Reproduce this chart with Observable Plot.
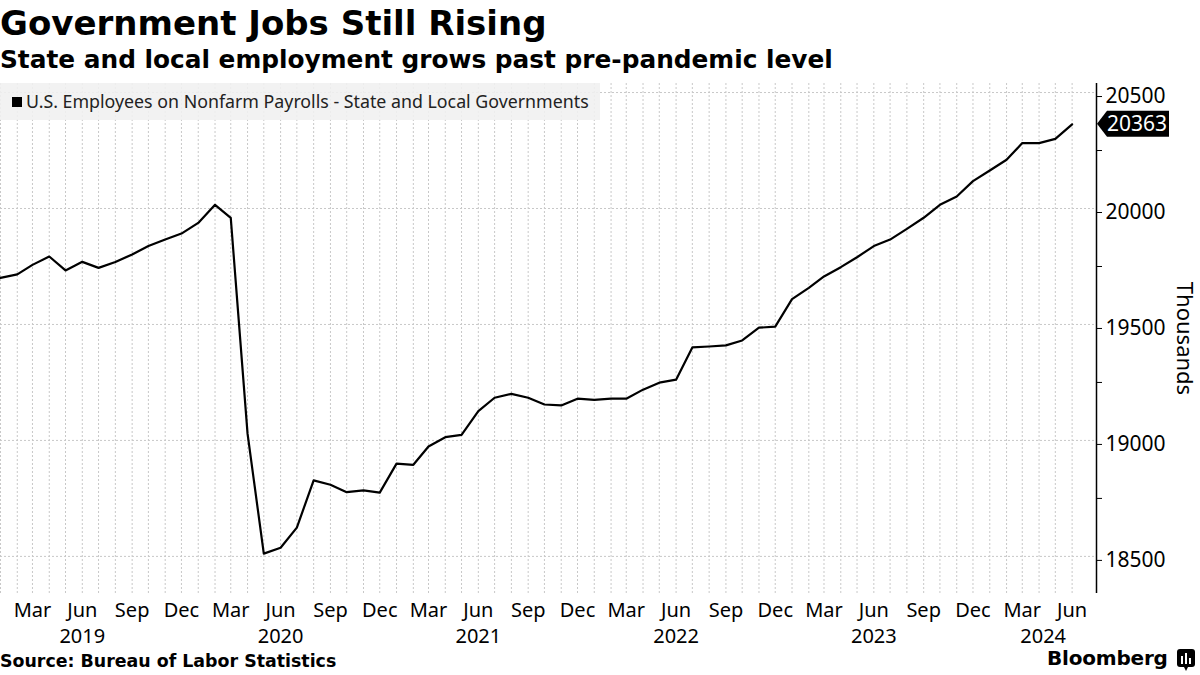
<!DOCTYPE html>
<html>
<head>
<meta charset="utf-8">
<script src="https://cdn.jsdelivr.net/npm/d3@7"></script>
<script src="https://cdn.jsdelivr.net/npm/@observablehq/plot@0.6"></script>
<style>
  html, body { margin: 0; padding: 0; background: #fff; }
  #root { position: relative; width: 1200px; height: 675px; overflow: hidden; background: #fff; }
  .abs { position: absolute; white-space: nowrap; }
  #title { left: 0; top: 6px; font: bold 34px/34px "DejaVu Sans", sans-serif; color: #000; }
  #subtitle { left: 0; top: 47px; font: bold 24.8px/25px "DejaVu Sans", sans-serif; color: #000; }
  #chart { position: absolute; left: 0; top: 75px; }
  #legend { left: 0; top: 83px; width: 600px; height: 37px; background: rgba(240,240,240,0.88);
            font: 17.8px/37px "Noto Sans", sans-serif; color: #222; }
  #legend .sw { position: absolute; left: 12px; top: 14px; width: 10px; height: 10px; background: #000; }
  #legend .tx { position: absolute; left: 26px; top: 0; }
  #source { left: 0; top: 653px; font: bold 17.4px/17px "DejaVu Sans", sans-serif; color: #000; }
  #brand { left: 1047px; top: 648px; font: bold 20px/20px "DejaVu Sans", sans-serif; color: #000; letter-spacing: -0.2px; }
  #icon { left: 1177px; top: 649px; }
</style>
</head>
<body>
<div id="root">
  <div id="title" class="abs">Government Jobs Still Rising</div>
  <div id="subtitle" class="abs">State and local employment grows past pre-pandemic level</div>
  <div id="chart"></div>
  <div id="legend" class="abs"><span class="sw"></span><span class="tx">U.S. Employees on Nonfarm Payrolls - State and Local Governments</span></div>
  <div id="source" class="abs">Source: Bureau of Labor Statistics</div>
  <div id="brand" class="abs">Bloomberg</div>
  <svg id="icon" class="abs" width="18" height="22" viewBox="0 0 18 22">
    <rect x="0" y="0" width="18" height="18" rx="3" fill="#000"/>
    <path d="M7 18 L9 22 L11 18 Z" fill="#000"/>
    <rect x="4" y="7" width="2" height="8" fill="#fff"/>
    <rect x="8" y="4" width="2" height="11" fill="#fff"/>
    <rect x="12" y="9" width="2" height="6" fill="#fff"/>
  </svg>
</div>
<script>
// ---- Data (thousands of employees, monthly) ----
const months = [
  "2019-01","2019-02","2019-03","2019-04","2019-05","2019-06","2019-07","2019-08","2019-09","2019-10","2019-11","2019-12",
  "2020-01","2020-02","2020-03","2020-04","2020-05","2020-06","2020-07","2020-08","2020-09","2020-10","2020-11","2020-12",
  "2021-01","2021-02","2021-03","2021-04","2021-05","2021-06","2021-07","2021-08","2021-09","2021-10","2021-11","2021-12",
  "2022-01","2022-02","2022-03","2022-04","2022-05","2022-06","2022-07","2022-08","2022-09","2022-10","2022-11","2022-12",
  "2023-01","2023-02","2023-03","2023-04","2023-05","2023-06","2023-07","2023-08","2023-09","2023-10","2023-11","2023-12",
  "2024-01","2024-02","2024-03","2024-04","2024-05","2024-06"
];
const employees = [
  19701,19716,19757,19793,19733,19770,19744,19769,19802,19838,19866,19892,
  19938,20016,19960,19029,18512,18537,18624,18828,18809,18777,18785,18775,
  18900,18895,18974,19014,19024,19126,19184,19201,19184,19155,19151,19180,
  19175,19180,19180,19219,19249,19262,19401,19405,19410,19431,19486,19491,
  19609,19658,19707,19747,19790,19838,19866,19912,19960,20016,20052,20118,
  20164,20210,20282,20282,20300,20363
];
const yTicks = [18500, 19000, 19500, 20000, 20500];
const yMinorTicks = [18750, 19250, 19750, 20250];
const monthTickNames = ["Mar", "Jun", "Sep", "Dec"];
const years = ["2019", "2020", "2021", "2022", "2023", "2024"];
const seriesName = "U.S. Employees on Nonfarm Payrolls - State and Local Governments";
const unitLabel = "Thousands";

// ---- Build table ----
const parseMonth = d3.utcParse("%Y-%m");
const data = months.map((m, i) => ({date: parseMonth(m), value: employees[i]}));
const xDomain = [parseMonth("2019-01"), new Date(Date.UTC(2024, 6, 16))];
const yDomain = [18340, 20539];
const monthDates = data.map(d => d.date);
const monthTicks = monthDates.filter(d => monthTickNames.includes(d3.utcFormat("%b")(d)));
const yearLabels = years.map(y => {
  const start = new Date(Date.UTC(+y, 0, 1));
  const end = new Date(Math.min(Date.UTC(+y + 1, 0, 1), +xDomain[1]));
  const mid = new Date((+start + +end) / 2);
  const jun = new Date(Date.UTC(+y, 5, 1));
  return {year: y, date: mid < jun ? mid : jun};
});

const FONT = "Noto Sans, sans-serif";
const W = 1200, H = 575;

const plot = Plot.plot({
  width: W,
  height: H,
  marginLeft: 0,
  marginRight: 104,
  marginTop: 8,
  marginBottom: 57,
  style: {fontFamily: FONT, fontSize: "20px", color: "#000", background: "transparent", overflow: "visible"},
  x: {type: "utc", domain: xDomain},
  y: {domain: yDomain},
  marks: [
    // gridlines
    Plot.ruleX(monthDates, {stroke: "#c8c8c8", strokeWidth: 1, strokeDasharray: "2,2"}),
    Plot.ruleY(yTicks, {x1: xDomain[0], x2: xDomain[1], stroke: "#c8c8c8", strokeWidth: 1, strokeDasharray: "2,2"}),
    // right axis line
    Plot.ruleX([xDomain[1]], {stroke: "#000", strokeWidth: 1.5}),
    // y axis
    Plot.axisY({anchor: "right", ticks: yTicks, tickSize: 5, tickPadding: 4, fontSize: 21, dy: 4, label: null, tickFormat: d => String(d)}),
    Plot.axisY({anchor: "right", ticks: yMinorTicks, tickSize: 5, tickFormat: () => "", label: null}),
    Plot.text([unitLabel], {frameAnchor: "right", textAnchor: "middle", text: d => d, rotate: 90, dx: 88, fontSize: 22, fill: "#000"}),
    // x axis: months and years
    Plot.axisX({ticks: monthTicks, tickSize: 0, tickPadding: 9, fontSize: 20, tickFormat: d3.utcFormat("%b"), label: null}),
    Plot.text(yearLabels, {x: "date", text: "year", frameAnchor: "bottom", lineAnchor: "top", dy: 35, fontSize: 20, fill: "#000"}),
    // the series
    Plot.line(data, {x: "date", y: "value", stroke: "#000", strokeWidth: 2.2, strokeLinejoin: "round"})
  ]
});
document.getElementById("chart").appendChild(plot);

// latest-value tag on the right axis, placed through Plot's own scales
const last = data[data.length - 1];
const xs = plot.scale("x"), ys = plot.scale("y");
const ax = xs.apply(xDomain[1]);
const ty = ys.apply(last.value);
const svg = d3.select(plot);
const g = svg.append("g");
g.append("path")
  .attr("d", `M${ax + 1},${ty} L${ax + 11},${ty - 13} L${ax + 73},${ty - 13} L${ax + 73},${ty + 13} L${ax + 11},${ty + 13} Z`)
  .attr("fill", "#000");
g.append("text")
  .attr("x", ax + 11).attr("y", ty).attr("dy", "0.36em")
  .attr("text-anchor", "start")
  .attr("fill", "#fff").attr("font-size", 21).attr("font-family", FONT)
  .text(String(last.value));
</script>
</body>
</html>
